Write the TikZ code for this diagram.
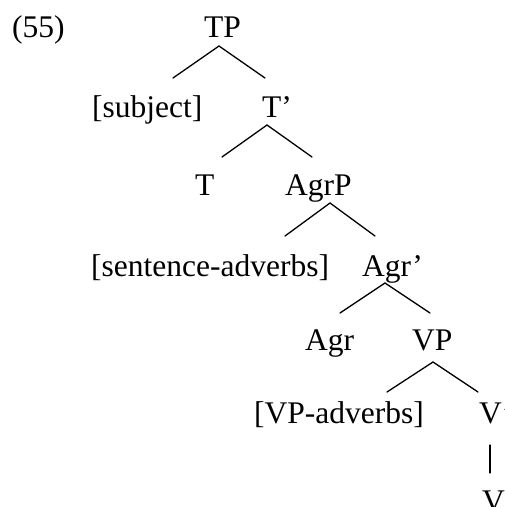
\documentclass[tikz,border=0pt]{standalone}
\usepackage{fontspec}
\setmainfont{Liberation Serif}
\begin{document}
\begin{tikzpicture}[x=1pt,y=-1pt,
  lab/.style={anchor=base west,inner sep=0pt,font=\fontsize{31.5}{36}\selectfont},
  branch/.style={line width=1.3pt,line cap=round}]
\useasboundingbox (0,0) rectangle (505,507);
\node[lab] (ex) at (12,37) {(55)};
\node[lab] (TP) at (204,37) {TP};
\node[lab] (subj) at (92,117) {[subject]};
\node[lab] (Tbar) at (262,117) {T’};
\node[lab] (T) at (195,195) {T};
\node[lab] (AgrP) at (285,195) {AgrP};
\node[lab] (sadv) at (91,276) {[sentence-adverbs]};
\node[lab] (Agrbar) at (362,276) {Agr’};
\node[lab] (Agr) at (305,350) {Agr};
\node[lab] (VP) at (412,350) {VP};
\node[lab] (vadv) at (254,423) {[VP-adverbs]};
\node[lab] (Vbar) at (479,423) {V’};
\node[lab] (V) at (482,511) {V};
% branch points
\coordinate (TPa) at (219,46);   \coordinate (TPl) at (173,78);   \coordinate (TPr) at (265,78);
\coordinate (Tba) at (267,125);  \coordinate (Tbl) at (222,157);  \coordinate (Tbr) at (312,157);
\coordinate (APa) at (330,203);  \coordinate (APl) at (285,236);  \coordinate (APr) at (375,236);
\coordinate (Aba) at (385,283);  \coordinate (Abl) at (340,313);  \coordinate (Abr) at (430,313);
\coordinate (VPa) at (433,362);  \coordinate (VPl) at (387,392);  \coordinate (VPr) at (478,392);
\coordinate (Vbt) at (490,445);  \coordinate (Vbb) at (490,473);
\draw[branch] (TPl) -- (TPa) -- (TPr);
\draw[branch] (Tbl) -- (Tba) -- (Tbr);
\draw[branch] (APl) -- (APa) -- (APr);
\draw[branch] (Abl) -- (Aba) -- (Abr);
\draw[branch] (VPl) -- (VPa) -- (VPr);
\draw[branch] (Vbt) -- (Vbb);
\end{tikzpicture}
\end{document}
